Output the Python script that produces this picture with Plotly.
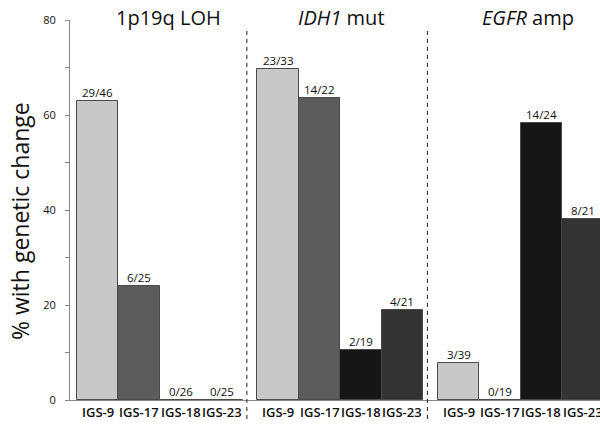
import plotly.graph_objects as go

panels = ["1p19q LOH", "<i>IDH1</i> mut", "<i>EGFR</i> amp"]
groups = ["IGS-9", "IGS-17", "IGS-18", "IGS-23"]
colors = ["#c8c8c8", "#5c5c5c", "#161616", "#333333"]
pct_1p19q = [63.0, 24.0, 0.0, 0.0]
pct_idh1 = [69.7, 63.6, 10.5, 19.0]
pct_egfr = [7.7, 0.0, 58.3, 38.1]
lbl_1p19q = ["29/46", "6/25", "0/26", "0/25"]
lbl_idh1 = ["23/33", "14/22", "2/19", "4/21"]
lbl_egfr = ["3/39", "0/19", "14/24", "8/21"]

values = [pct_1p19q, pct_idh1, pct_egfr]
labels = [lbl_1p19q, lbl_idh1, lbl_egfr]
panel_step = 4.35
title_off = [1.70, 1.54, 1.67]
FONT = "Open Sans"

fig = go.Figure()
for p in range(3):
    xs = [p * panel_step + i for i in range(4)]
    fig.add_trace(go.Bar(
        x=xs, y=values[p], width=1.0,
        marker=dict(color=colors, line=dict(color="#4a4a4a", width=1)),
        showlegend=False, hoverinfo="skip"))
    for x, v, t, g in zip(xs, values[p], labels[p], groups):
        fig.add_annotation(x=x, y=v, text=t, showarrow=False, yanchor="bottom",
                           xanchor="center", yshift=-1,
                           font=dict(family=FONT, size=11.5, color="#111"))
        fig.add_annotation(x=x, y=0, yref="paper", text=g, showarrow=False,
                           yanchor="middle", xanchor="center", yshift=-12,
                           font=dict(family=FONT, size=13, weight=600, color="#111"))
    fig.add_annotation(x=p * panel_step + title_off[p], y=1, yref="paper",
                       text=panels[p], showarrow=False, yanchor="middle",
                       xanchor="center", yshift=3,
                       font=dict(family=FONT, size=20, color="#111"))

for p in range(1, 3):
    xd = p * panel_step - 0.75
    fig.add_shape(type="line", x0=xd, x1=xd, y0=-0.05, y1=0.98, yref="paper",
                  line=dict(color="#222", width=1, dash="4px,4px"))

fig.add_annotation(x=0, xref="paper", y=0.5, yref="paper", text="% with genetic change",
                   textangle=-90, showarrow=False, xanchor="center", yanchor="middle",
                   xshift=-50, yshift=-11,
                   font=dict(family=FONT, size=23, color="#111"))

fig.update_layout(
    width=600, height=427,
    margin=dict(l=70, r=0, t=20, b=27),
    plot_bgcolor="white", paper_bgcolor="white",
    bargap=0,
    font=dict(family=FONT, color="#111"),
    xaxis=dict(range=[-0.663, 12.11], showticklabels=False,
               showline=True, linecolor="#888", linewidth=1, ticks="",
               showgrid=False, zeroline=False, automargin=False),
    yaxis=dict(range=[0, 80], tickvals=[0, 20, 40, 60, 80], showline=True,
               linecolor="#888", linewidth=1, ticks="outside", ticklen=4,
               tickcolor="#888", showgrid=False, zeroline=False, automargin=False,
               ticklabelstandoff=7,
               minor=dict(dtick=10, ticks="outside", ticklen=4, tickcolor="#888"),
               tickfont=dict(family=FONT, size=11, color="#111")),
)

fig.write_html("out.html", config={"displayModeBar": False},
               post_script="document.body.style.margin='0';")
